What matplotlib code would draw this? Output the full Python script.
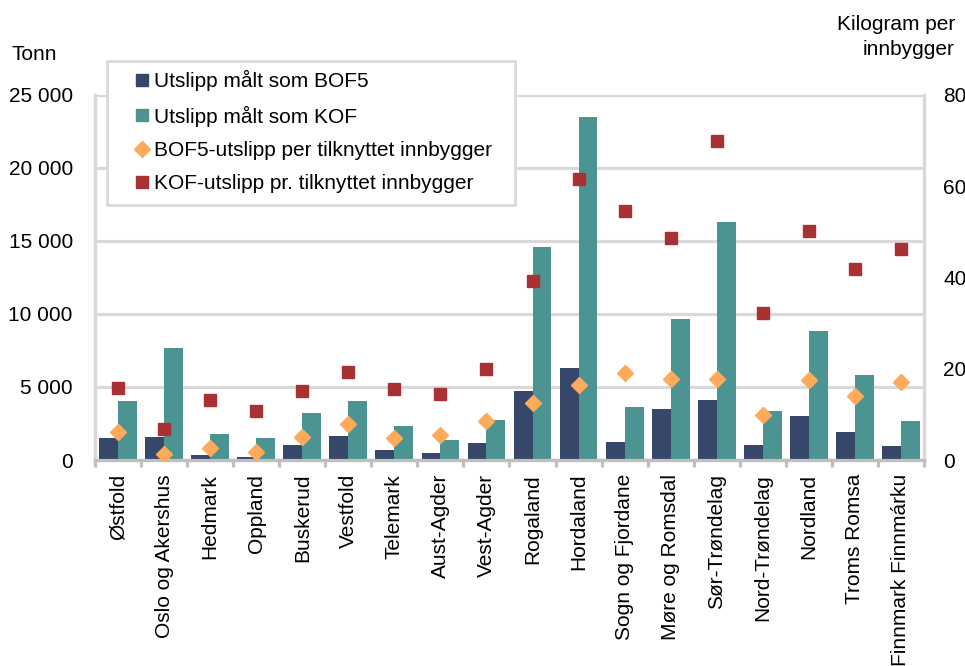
import matplotlib
matplotlib.use("Agg")
import matplotlib.pyplot as plt
from matplotlib.lines import Line2D
from matplotlib.patches import Rectangle
import numpy as np

plt.rcParams['font.family'] = ['Liberation Sans', 'DejaVu Sans']

categories = ["Østfold", "Oslo og Akershus", "Hedmark", "Oppland", "Buskerud",
              "Vestfold", "Telemark", "Aust-Agder", "Vest-Agder", "Rogaland",
              "Hordaland", "Sogn og Fjordane", "Møre og Romsdal", "Sør-Trøndelag",
              "Nord-Trøndelag", "Nordland", "Troms Romsa", "Finnmark Finnmárku"]

bof5_tonn = [1530, 1600, 340, 200, 1050, 1670, 680, 480, 1160, 4700,
             6300, 1230, 3490, 4110, 1000, 3010, 1920, 960]
kof_tonn = [4040, 7690, 1800, 1490, 3200, 4020, 2330, 1370, 2720, 14570,
            23470, 3610, 9660, 16300, 3360, 8810, 5820, 2690]
bof5_per_innb = [6.1, 1.4, 2.6, 1.8, 5.1, 8.0, 4.8, 5.5, 8.5, 12.6,
                 16.4, 19.1, 17.7, 17.7, 9.9, 17.5, 14.1, 17.2]
kof_per_innb = [15.8, 6.8, 13.1, 10.7, 15.1, 19.3, 15.6, 14.5, 19.9, 39.2,
                61.6, 54.6, 48.7, 69.9, 32.2, 50.2, 41.9, 46.3]

left_ticks = [0, 5000, 10000, 15000, 20000, 25000]
left_ticklabels = ["0", "5 000", "10 000", "15 000", "20 000", "25 000"]
right_ticks = [0, 20, 40, 60, 80]

legend_labels = ["Utslipp målt som BOF5", "Utslipp målt som KOF",
                 "BOF5-utslipp per tilknyttet innbygger",
                 "KOF-utslipp pr. tilknyttet innbygger"]

c_bof = "#36476a"
c_kof = "#4b9491"
c_dia = "#fdaa5b"
c_sq = "#aa3133"
grid_c = "#d9d9d9"
axis_c = "#bfbfbf"

fs = 15

fig = plt.figure(figsize=(9.65, 6.66), dpi=100)
ax = fig.add_axes([95/965, 1 - 460/666, (924 - 95)/965, (460 - 95)/666])
ax2 = ax.twinx()

x = np.arange(len(categories))
w = 0.41
ax.bar(x - w/2, bof5_tonn, width=w, color=c_bof, zorder=3)
ax.bar(x + w/2, kof_tonn, width=w, color=c_kof, zorder=3)

ax2.plot(x, bof5_per_innb, linestyle="none", marker="D", markersize=7.8,
         color=c_dia, zorder=4)
ax2.plot(x, kof_per_innb, linestyle="none", marker="s", markersize=9,
         color=c_sq, zorder=4)

ax.set_xlim(-0.5, len(categories) - 0.5)
ax.set_ylim(0, 25000)
ax2.set_ylim(0, 80)

ax.set_yticks(left_ticks)
ax.set_yticklabels(left_ticklabels, fontsize=fs)
ax2.set_yticks(right_ticks)
ax2.set_yticklabels([str(t) for t in right_ticks], fontsize=fs)
ax.tick_params(axis='y', length=0, pad=16)
ax2.tick_params(axis='y', length=0, pad=14)

ax.yaxis.grid(True, color=grid_c, linewidth=2.3, zorder=0)
ax.set_axisbelow(True)

ax.set_xticks(x)
ax.set_xticklabels(categories, rotation=90, fontsize=fs, va='top', ha='center')
ax.tick_params(axis='x', length=0, pad=10)
ax.set_xticks(np.arange(-0.5, len(categories), 1.0), minor=True)
ax.tick_params(axis='x', which='minor', length=5, width=2.3, color=axis_c)

for a in (ax, ax2):
    a.spines['top'].set_visible(False)
    a.spines['left'].set_color(grid_c)
    a.spines['left'].set_linewidth(2.3)
    a.spines['right'].set_color(grid_c)
    a.spines['right'].set_linewidth(2.3)
    a.spines['bottom'].set_color(axis_c)
    a.spines['bottom'].set_linewidth(2.3)

fig.text(12/965, 1 - 55/666, "Tonn", fontsize=fs, ha='left', va='center')
fig.text(955/965, 1 - 37/666, "Kilogram per\ninnbygger", fontsize=fs,
         ha='right', va='center', multialignment='right', linespacing=1.45)

# legend box
box = Rectangle((107/965, 1 - 205/666), 408/965, 144/666,
                transform=fig.transFigure, facecolor='white',
                edgecolor=grid_c, linewidth=2, zorder=5)
fig.add_artist(box)

handles = [
    Line2D([], [], linestyle="none", marker="s", markersize=9, color=c_bof),
    Line2D([], [], linestyle="none", marker="s", markersize=9, color=c_kof),
    Line2D([], [], linestyle="none", marker="D", markersize=7.8, color=c_dia),
    Line2D([], [], linestyle="none", marker="s", markersize=9, color=c_sq),
]
leg = fig.legend(handles, legend_labels, loc='upper left',
                 bbox_to_anchor=(107/965, 1 - 61/666), fontsize=fs,
                 frameon=False, handlelength=2.45,
                 handletextpad=-0.64, labelspacing=0.68, borderpad=0.45,
                 borderaxespad=0)
leg.set_zorder(10)

fig.savefig("out.png", dpi=100)
